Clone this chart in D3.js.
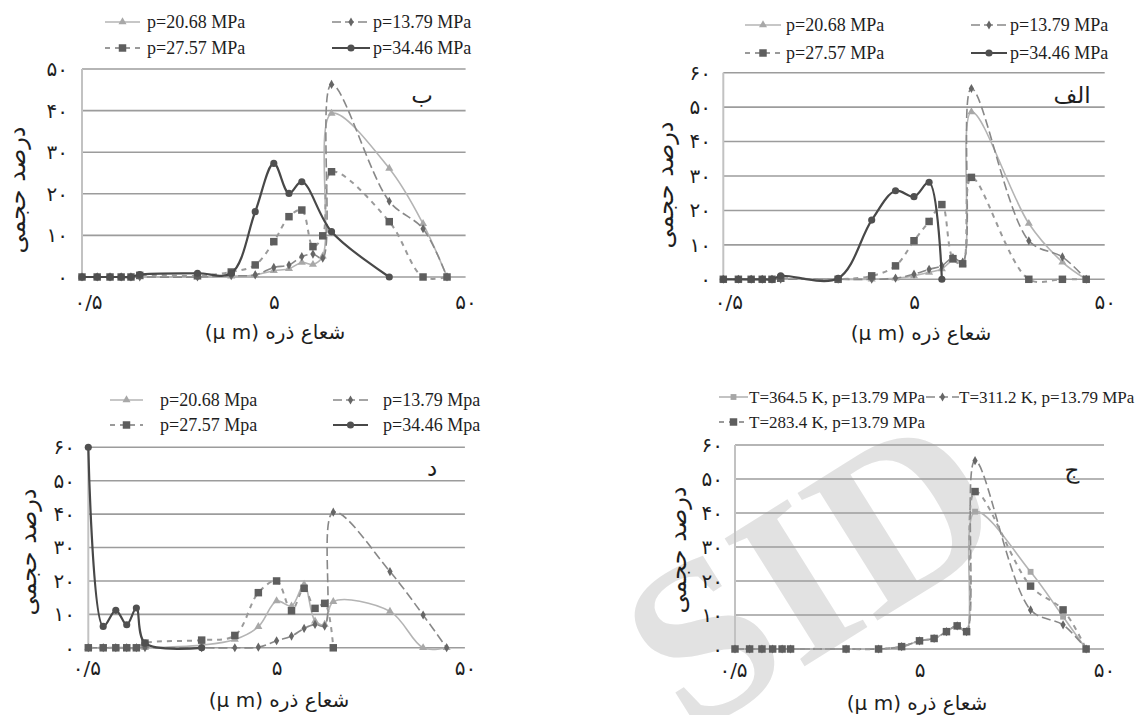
<!DOCTYPE html>
<html>
<head>
<meta charset="utf-8">
<script src="https://cdn.jsdelivr.net/npm/d3@7/dist/d3.min.js"></script>
<style>
  body { margin: 0; background: #fff; }
  svg { display: block; }
</style>
</head>
<body>
<svg id="chart" width="1141" height="715"></svg>
<script>
// particle radius bins (µm), shared by every panel
const radius = [0.5, 0.6, 0.7, 0.8, 0.9, 1, 2, 3, 4, 5, 6, 7, 8, 9, 10, 20, 30, 40];

// panel "الف" (top right)
const alefP2068 = [0, 0, 0, 0, 0, 0, 0, 0, 0.3, 1, 2, 3, 5.5, 4.5, 48.6, 16.2, 5, 0];
const alefP1379 = [0, 0, 0, 0, 0, 0, 0, 0, 0.3, 1.5, 2.9, 3.9, 6.3, 5, 55.4, 11.2, 6.5, 0];
const alefP2757 = [0, 0, 0, 0, 0, 0.3, 0, 1, 3.9, 11.2, 16.8, 21.7, 6, 4.5, 29.6, 0, 0, 0];
const alefP3446 = [0, 0, 0, 0, 0, 1, 0.3, 17.2, 25.7, 24, 28.2, 0, null, null, null, null, null, null];

// panel "ب" (top left)
const beP2068 = [0, 0, 0, 0, 0, 0, 0, 0.2, 0.5, 1.5, 2, 3.5, 3, 5, 39.3, 26.1, 12.8, 0];
const beP1379 = [0, 0, 0, 0, 0, 0, 0, 0.3, 0.5, 2.3, 2.9, 4.9, 5.5, 4.5, 46.3, 18.2, 11.6, 0];
const beP2757 = [0, 0, 0, 0, 0, 0.4, 0.3, 1.2, 2.9, 8.5, 14.5, 16.1, 7.3, 9.9, 25.3, 13.3, 0, 0];
const beP3446 = [0, 0, 0, 0, 0, 0.6, 0.9, 0.9, 15.7, 27.3, 20.1, 22.9, null, null, 10.9, 0, null, null];

// panel "ج" (bottom right)
const jimT3645 = [0, 0, 0, 0, 0, 0, 0, 0, 0.7, 2.4, 3.1, 5.1, 6.8, 5.1, 40.4, 22.7, 9.5, 0];
const jimT3112 = [0, 0, 0, 0, 0, 0, 0, 0, 0.7, 2.4, 3.1, 5.1, 6.8, 5.1, 55.4, 11.5, 7.1, 0];
const jimT2834 = [0, 0, 0, 0, 0, 0, 0, 0, 0.7, 2.4, 3.1, 5.1, 6.8, 5.1, 46.3, 18.5, 11.5, 0];

// panel "د" (bottom left)
const dalP2068 = [0, 0, 0, 0, 0, 0, 0.8, 2.5, 6.3, 14, 12.5, 19, 8, 7, 13.8, 10.9, 0, 0];
const dalP1379 = [0, 0, 0, 0, 0, 0, 0, 0, 0.2, 2.1, 3.5, 5.8, 7, 6.5, 40.6, 22.8, 9.8, 0];
const dalP2757 = [0, 0, 0, 0, 0, 1.4, 2.3, 3.7, 16.5, 20, 11.1, 17.8, 11.8, 13.3, 0, null, null, null];
const dalP3446 = [60, 6.4, 11.2, 6.9, 11.9, 1.4, 0, null, null, null, null, null, null, null, null, null, null, null];

// labels
const labelsMPa = ["p=20.68 MPa", "p=13.79 MPa", "p=27.57 MPa", "p=34.46 MPa"];
const labelsMpa = ["p=20.68 Mpa", "p=13.79 Mpa", "p=27.57 Mpa", "p=34.46 Mpa"];
const labelsTemp = ["T=364.5 K, p=13.79 MPa", "T=311.2 K, p=13.79 MPa", "T=283.4 K, p=13.79 MPa"];
const xTickValues = [0.5, 5, 50];
const xTickLabels = ["۰/۵", "۵", "۵۰"];
const xTitle = "شعاع ذره (μ m)";
const yTitle = "درصد حجمی";

const persian = s => String(s).replace(/\d/g, d => "۰۱۲۳۴۵۶۷۸۹"[d]);

// line / marker styles
const styleLight = {stroke: "#b4b4b4", width: 1.6, dash: null, marker: d3.symbolTriangle, size: 28, fill: "#a8a8a8"};
const styleDot = {stroke: "#888", width: 1.6, dash: "9,4", marker: d3.symbolDiamond, size: 24, fill: "#666"};
const styleSquare = {stroke: "#9a9a9a", width: 2, dash: "5,5", marker: d3.symbolSquare, size: 56, fill: "#5e5e5e"};
const styleDark = {stroke: "#484848", width: 2.2, dash: null, marker: d3.symbolCircle, size: 40, fill: "#505050"};
const styleLightSq = {stroke: "#b4b4b4", width: 1.6, dash: null, marker: d3.symbolSquare, size: 34, fill: "#a6a6a6"};

const svg = d3.select("#chart");
const serif = "'Liberation Serif', 'Times New Roman', serif";
const persianFont = "'DejaVu Sans', sans-serif";

// faint watermark behind the lower right panel
svg.append("text")
  .attr("transform", "translate(812,572) rotate(-32)")
  .attr("text-anchor", "middle")
  .attr("dy", "0.33em")
  .attr("font-family", serif)
  .attr("font-weight", "bold")
  .attr("font-size", 230)
  .attr("fill", "#e2e2e2")
  .text("SID");

const panels = [
  {
    left: 82, right: 465.6, top: 69, bottom: 277, yMax: 50,
    yLabelX: 68, yTitlePos: [17, 190], xTickY: 302, xTitlePos: [275, 332], firstTickShift: 6,
    letter: "ب", letterPos: [422, 95], legendSize: 18,
    series: [
      {values: beP2068, style: styleLight, label: labelsMPa[0], leg: [105, 140, 147, 22]},
      {values: beP1379, style: styleDot, label: labelsMPa[1], leg: [332, 370, 373, 22]},
      {values: beP2757, style: styleSquare, label: labelsMPa[2], leg: [105, 140, 147, 48]},
      {values: beP3446, style: styleDark, label: labelsMPa[3], leg: [332, 370, 373, 48]}
    ]
  },
  {
    left: 723.3, right: 1104.7, top: 72.7, bottom: 279.3, yMax: 60,
    yLabelX: 711, yTitlePos: [665, 185], xTickY: 302, xTitlePos: [921, 333], firstTickShift: 5,
    letter: "الف", letterPos: [1072, 95], legendSize: 18,
    series: [
      {values: alefP2068, style: styleLight, label: labelsMPa[0], leg: [745, 781, 786, 25]},
      {values: alefP1379, style: styleDot, label: labelsMPa[1], leg: [971, 1007, 1010, 25]},
      {values: alefP2757, style: styleSquare, label: labelsMPa[2], leg: [745, 781, 786, 53]},
      {values: alefP3446, style: styleDark, label: labelsMPa[3], leg: [971, 1007, 1010, 53]}
    ]
  },
  {
    left: 88.3, right: 464.9, top: 447.3, bottom: 647.8, yMax: 60,
    yLabelX: 75, yTitlePos: [28, 552], xTickY: 668, xTitlePos: [279, 700], firstTickShift: -2,
    letter: "د", letterPos: [432, 468], legendSize: 18,
    series: [
      {values: dalP2068, style: styleLight, label: labelsMpa[0], leg: [110, 143, 160, 400]},
      {values: dalP1379, style: styleDot, label: labelsMpa[1], leg: [333, 368, 383, 400]},
      {values: dalP2757, style: styleSquare, label: labelsMpa[2], leg: [110, 143, 160, 425]},
      {values: dalP3446, style: styleDark, label: labelsMpa[3], leg: [333, 368, 383, 425]}
    ]
  },
  {
    left: 735, right: 1104, top: 445, bottom: 649, yMax: 60,
    yLabelX: 723, yTitlePos: [678, 550], xTickY: 670, xTitlePos: [917, 703], firstTickShift: -2,
    letter: "ج", letterPos: [1072, 470], legendSize: 17,
    series: [
      {values: jimT3645, style: styleLightSq, label: labelsTemp[0], leg: [719, 748, 749, 397]},
      {values: jimT3112, style: styleDot, label: labelsTemp[1], leg: [926, 959, 959, 397]},
      {values: jimT2834, style: styleSquare, label: labelsTemp[2], leg: [719, 748, 749, 422]}
    ]
  }
];

function drawPanel(p) {
  const x = d3.scaleLog().domain([0.5, 50]).range([p.left, p.right]);
  const y = d3.scaleLinear().domain([0, p.yMax]).range([p.bottom, p.top]);
  const g = svg.append("g");
  const yTicks = d3.range(0, p.yMax + 1, 10);

  // horizontal gridlines
  g.selectAll("line.grid").data(yTicks).join("line")
    .attr("class", "grid")
    .attr("x1", p.left).attr("x2", x(50))
    .attr("y1", d => y(d)).attr("y2", d => y(d))
    .attr("stroke", "#9c9c9c").attr("stroke-width", 1.6);

  // left axis line
  g.append("line")
    .attr("x1", p.left).attr("x2", p.left)
    .attr("y1", y(p.yMax)).attr("y2", y(0))
    .attr("stroke", "#c2c2c2").attr("stroke-width", 2);

  // y tick labels
  const yAxis = d3.axisLeft(y).tickValues(yTicks).tickSize(0)
    .tickPadding(p.left - p.yLabelX).tickFormat(persian);
  g.append("g").attr("transform", `translate(${p.left},0)`).call(yAxis)
    .call(a => a.select(".domain").remove())
    .selectAll("text")
    .attr("font-family", persianFont).attr("font-size", 20).attr("fill", "#1e1e1e");

  // x tick labels
  const xAxis = d3.axisBottom(x).tickValues(xTickValues).tickSize(0)
    .tickFormat((d, i) => xTickLabels[i]);
  g.append("g").attr("transform", `translate(0,${p.xTickY})`).call(xAxis)
    .call(a => a.select(".domain").remove())
    .selectAll("text")
    .attr("x", (d, i) => i === 0 ? p.firstTickShift : 0)
    .attr("y", 0).attr("dy", "0.35em")
    .attr("font-family", persianFont).attr("font-size", 20).attr("fill", "#1e1e1e");

  // axis titles
  g.append("text")
    .attr("x", p.xTitlePos[0]).attr("y", p.xTitlePos[1]).attr("dy", "0.35em")
    .attr("text-anchor", "middle").attr("direction", "rtl")
    .attr("font-family", persianFont).attr("font-size", 20).attr("fill", "#1e1e1e")
    .text(xTitle);
  g.append("text")
    .attr("transform", `translate(${p.yTitlePos[0]},${p.yTitlePos[1]}) rotate(-90)`)
    .attr("dy", "0.35em")
    .attr("text-anchor", "middle").attr("direction", "rtl")
    .attr("font-family", persianFont).attr("font-size", 24).attr("fill", "#1e1e1e")
    .text(yTitle);

  // panel letter
  g.append("text")
    .attr("x", p.letterPos[0]).attr("y", p.letterPos[1]).attr("dy", "0.35em")
    .attr("text-anchor", "middle").attr("direction", "rtl")
    .attr("font-family", persianFont).attr("font-size", 23).attr("fill", "#1e1e1e")
    .text(p.letter);

  const line = d3.line()
    .x(d => x(d.r)).y(d => y(d.v))
    .curve(d3.curveCatmullRom.alpha(0.5));

  p.series.forEach(s => {
    // missing bins are skipped, the line runs straight on to the next one
    const pts = radius.map((r, i) => ({r: r, v: s.values[i]})).filter(d => d.v !== null);
    const st = s.style;
    g.append("path")
      .attr("d", line(pts))
      .attr("fill", "none")
      .attr("stroke", st.stroke).attr("stroke-width", st.width)
      .attr("stroke-dasharray", st.dash);
    g.selectAll(null).data(pts).join("path")
      .attr("transform", d => `translate(${x(d.r)},${y(d.v)})`)
      .attr("d", d3.symbol().type(st.marker).size(st.size))
      .attr("fill", st.fill);

    // legend entry
    const [x0, x1, tx, ly] = s.leg;
    g.append("line")
      .attr("x1", x0).attr("x2", x1).attr("y1", ly).attr("y2", ly)
      .attr("stroke", st.stroke).attr("stroke-width", st.width)
      .attr("stroke-dasharray", st.dash);
    g.append("path")
      .attr("transform", `translate(${(x0 + x1) / 2},${ly})`)
      .attr("d", d3.symbol().type(st.marker).size(st.size))
      .attr("fill", st.fill);
    g.append("text")
      .attr("x", tx).attr("y", ly).attr("dy", "0.33em")
      .attr("font-family", serif).attr("font-size", p.legendSize).attr("fill", "#1e1e1e")
      .text(s.label);
  });
}

panels.forEach(drawPanel);
</script>
</body>
</html>
